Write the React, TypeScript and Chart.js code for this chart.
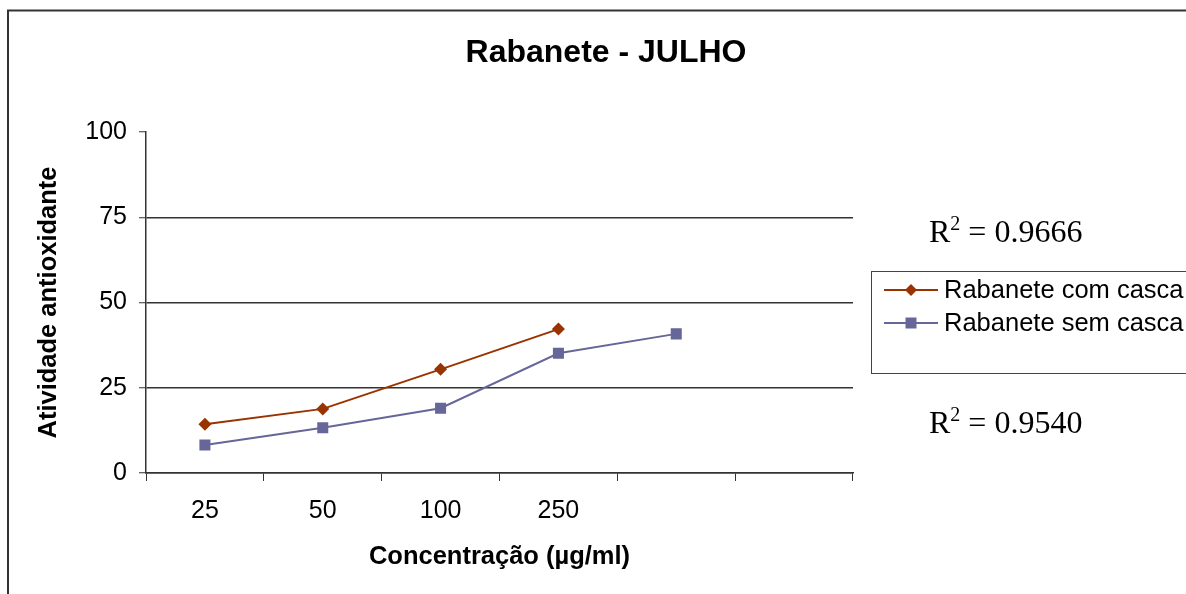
import React, { useEffect, useRef } from 'react';
import { Chart, registerables } from 'chart.js';

Chart.register(...registerables);

const categories = ['25', '50', '100', '250', '', ''];
const comCasca = [14.3, 18.8, 30.4, 42.2, null, null];
const semCasca = [8.2, 13.3, 19.0, 35.1, 40.8, null];
const seriesNames = ['Rabanete com casca', 'Rabanete sem casca'];
const seriesColors = ['#993300', '#666699'];
const r2Values = ['0.9666', '0.9540'];
const yMin = 0;
const yMax = 100;
const yStep = 25;
const chartTitle = 'Rabanete - JULHO';
const xTitle = 'Concentração (µg/ml)';
const yTitle = 'Atividade antioxidante';

const SANS = "'Liberation Sans', Arial, sans-serif";
const SERIF = "'Liberation Serif', 'Times New Roman', serif";

const decorPlugin = {
  id: 'decor',
  beforeDraw(chart: any) {
    const ctx = chart.ctx;
    ctx.save();
    ctx.fillStyle = '#ffffff';
    ctx.fillRect(0, 0, chart.width, chart.height);
    // outer frame
    ctx.strokeStyle = '#333333';
    ctx.lineWidth = 2;
    ctx.beginPath();
    ctx.moveTo(8, chart.height + 2);
    ctx.lineTo(8, 10.5);
    ctx.lineTo(chart.width + 2, 10.5);
    ctx.stroke();
    ctx.restore();
  },
  afterDraw(chart: any) {
    const ctx = chart.ctx;
    ctx.save();
    // title
    ctx.fillStyle = '#000';
    ctx.font = `bold 32px ${SANS}`;
    ctx.textAlign = 'center';
    ctx.textBaseline = 'middle';
    ctx.fillText(chartTitle, 606, 53);

    // legend box
    ctx.strokeStyle = '#444';
    ctx.lineWidth = 1;
    ctx.strokeRect(871.5, 271.5, 330, 102);
    const rows = [290, 323];
    seriesNames.forEach((name, i) => {
      const y = rows[i];
      ctx.strokeStyle = seriesColors[i];
      ctx.lineWidth = 2;
      ctx.beginPath();
      ctx.moveTo(884, y);
      ctx.lineTo(938, y);
      ctx.stroke();
      ctx.fillStyle = seriesColors[i];
      ctx.beginPath();
      if (i === 0) {
        ctx.moveTo(911, y - 6);
        ctx.lineTo(917, y);
        ctx.lineTo(911, y + 6);
        ctx.lineTo(905, y);
        ctx.closePath();
      } else {
        ctx.rect(905.5, y - 5.5, 11, 11);
      }
      ctx.fill();
      ctx.fillStyle = '#000';
      ctx.font = `25.5px ${SANS}`;
      ctx.textAlign = 'left';
      ctx.textBaseline = 'middle';
      ctx.fillText(name, 944, y + 1);
    });

    // R² labels
    const r2Base = [242, 433];
    r2Values.forEach((v, i) => {
      const base = r2Base[i];
      ctx.fillStyle = '#000';
      ctx.textAlign = 'left';
      ctx.textBaseline = 'alphabetic';
      ctx.font = `32px ${SERIF}`;
      ctx.fillText('R', 929, base);
      const rw = ctx.measureText('R').width;
      ctx.font = `20px ${SERIF}`;
      ctx.fillText('2', 929 + rw, base - 12);
      const sw = ctx.measureText('2').width;
      ctx.font = `32px ${SERIF}`;
      ctx.fillText(' = ' + v, 929 + rw + sw, base);
    });
    ctx.restore();
  },
};

export default function App() {
  const ref = useRef<HTMLCanvasElement>(null);
  useEffect(() => {
    if (!ref.current) return;
    const chart = new Chart(ref.current, {
      type: 'line',
      data: {
        labels: categories,
        datasets: [
          {
            label: seriesNames[0],
            data: comCasca,
            borderColor: seriesColors[0],
            backgroundColor: seriesColors[0],
            borderWidth: 2,
            pointStyle: 'rectRot',
            pointRadius: 6.5,
            pointBorderWidth: 0,
            tension: 0,
          },
          {
            label: seriesNames[1],
            data: semCasca,
            borderColor: seriesColors[1],
            backgroundColor: seriesColors[1],
            borderWidth: 2,
            pointStyle: 'rect',
            pointRadius: 7.8,
            pointBorderWidth: 0,
            tension: 0,
          },
        ],
      },
      options: {
        responsive: false,
        animation: false,
        events: [],
        layout: { padding: { left: 0, top: 132, right: 333, bottom: 0 } },
        plugins: {
          legend: { display: false },
          title: { display: false },
          tooltip: { enabled: false },
        },
        scales: {
          x: {
            type: 'category',
            offset: true,
            afterFit: (s: any) => { s.height = 121; },
            grid: {
              offset: true,
              drawOnChartArea: false,
              drawTicks: true,
              tickLength: 8,
              tickColor: '#333',
              tickWidth: 1,
            },
            border: { display: true, color: '#333', width: 1.5 },
            ticks: {
              color: '#000',
              font: { family: SANS, size: 25 },
              padding: 15,
              maxRotation: 0,
              autoSkip: false,
            },
            title: {
              display: true,
              text: xTitle,
              color: '#000',
              font: { family: SANS, size: 25.5, weight: 'bold' },
              padding: { top: 0, bottom: 22 },
            },
          },
          y: {
            min: yMin,
            max: yMax,
            afterFit: (s: any) => { s.width = 146; },
            grid: {
              color: (c: any) => (c.tick && c.tick.value === yMax ? 'rgba(0,0,0,0)' : '#333'),
              lineWidth: 1.5,
              drawTicks: true,
              tickLength: 7,
              tickColor: '#333',
              tickWidth: 1,
            },
            border: { display: true, color: '#333', width: 1.5 },
            ticks: {
              stepSize: yStep,
              color: '#000',
              font: { family: SANS, size: 25 },
              padding: 12,
            },
            title: {
              display: true,
              text: yTitle,
              color: '#000',
              font: { family: SANS, size: 25.5, weight: 'bold' },
              padding: { top: 34, bottom: 0 },
            },
          },
        },
      },
      plugins: [decorPlugin],
    });
    return () => chart.destroy();
  }, []);
  return (
    <div style={{ position: 'absolute', left: 0, top: 0, width: 1186, height: 594 }}>
      <canvas ref={ref} width={1186} height={594} style={{ width: 1186, height: 594, display: 'block' }} />
    </div>
  );
}
